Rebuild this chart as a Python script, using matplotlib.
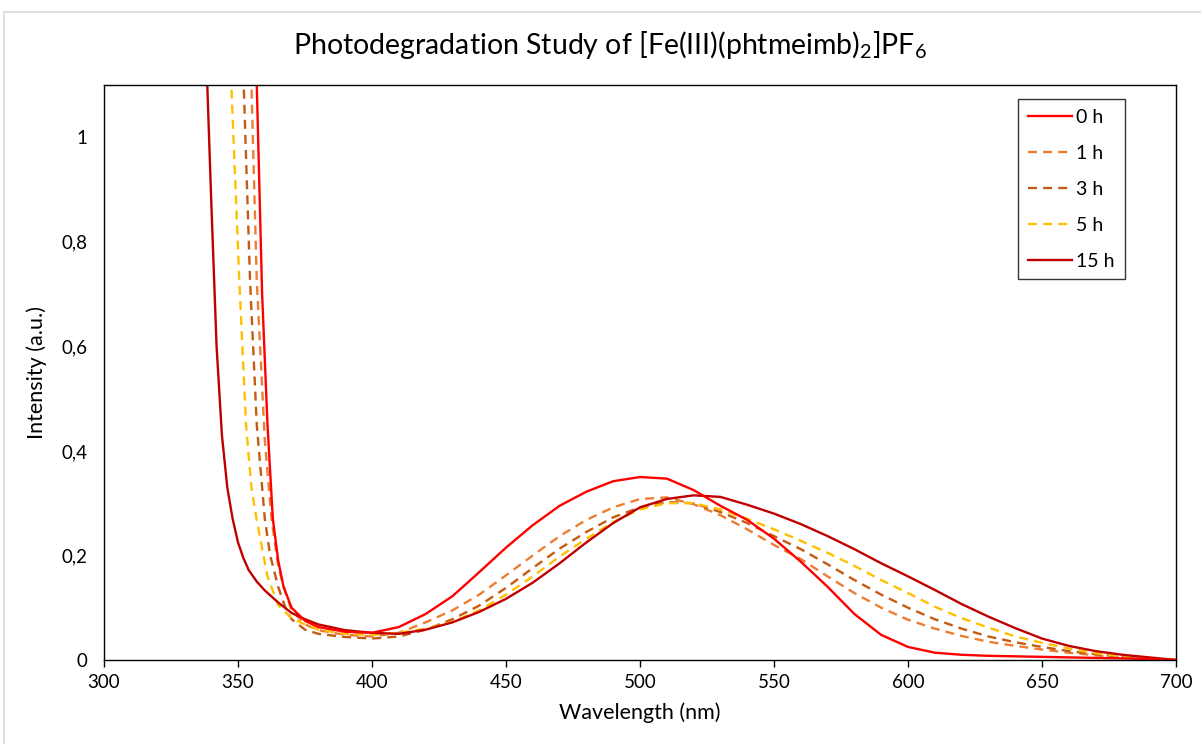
"""
Photodegradation study — UV/Vis spectra of [Fe(III)(phtmeimb)2]PF6 over time.
"""

import matplotlib.pyplot as plt
from matplotlib.lines import Line2D
from matplotlib.ticker import FuncFormatter

plt.rcParams["font.family"] = ["Lato", "DejaVu Sans"]
plt.rcParams["mathtext.fontset"] = "custom"
plt.rcParams["mathtext.rm"] = "Lato"
plt.rcParams["mathtext.it"] = "Lato:italic"

# ---- data ----
# common wavelength grid above the absorption edge
wl_tail = [380, 390, 400, 410, 420, 430, 440, 450, 460, 470, 480, 490, 500,
           510, 520, 530, 540, 550, 560, 570, 580, 590, 600, 610, 620, 630,
           640, 650, 660, 670, 680, 690, 700]

# steep UV edge, per series (wavelength, intensity)
edge_wl_0h = [355, 357, 359, 361, 363, 365, 367, 370, 375]
edge_0h = [1.45, 1.10, 0.70, 0.45, 0.27, 0.19, 0.14, 0.10, 0.075]
edge_wl_1h = [353, 355, 357, 360, 362.5, 365, 367, 370, 375]
edge_1h = [1.45, 1.10, 0.725, 0.42, 0.27, 0.18, 0.14, 0.095, 0.068]
edge_wl_3h = [350, 352, 354.5, 357, 360, 362, 365, 368, 370, 375]
edge_3h = [1.45, 1.12, 0.725, 0.45, 0.27, 0.20, 0.14, 0.095, 0.078, 0.058]
edge_wl_5h = [345, 347.5, 350.5, 353, 355, 357, 361, 365, 370, 375]
edge_5h = [1.50, 1.10, 0.725, 0.45, 0.33, 0.267, 0.16, 0.105, 0.08, 0.068]
edge_wl_15h = [336, 338, 340, 342, 344, 346, 348, 350, 352, 354, 357, 360,
               365, 370, 375]
edge_15h = [1.60, 1.18, 0.88, 0.60, 0.43, 0.33, 0.27, 0.225, 0.195, 0.172,
            0.150, 0.133, 0.11, 0.09, 0.078]

tail_0h = [0.063, 0.054, 0.052, 0.063, 0.088, 0.122, 0.168, 0.215, 0.258,
           0.295, 0.322, 0.342, 0.350, 0.347, 0.325, 0.295, 0.268, 0.232,
           0.188, 0.140, 0.088, 0.048, 0.025, 0.014, 0.010, 0.008, 0.007,
           0.006, 0.005, 0.004, 0.003, 0.002, 0.0]
tail_1h = [0.057, 0.048, 0.045, 0.052, 0.072, 0.095, 0.125, 0.162, 0.200,
           0.237, 0.268, 0.292, 0.308, 0.311, 0.298, 0.277, 0.250, 0.220,
           0.193, 0.160, 0.128, 0.100, 0.077, 0.060, 0.046, 0.035, 0.027,
           0.020, 0.014, 0.009, 0.005, 0.002, 0.0]
tail_3h = [0.050, 0.044, 0.041, 0.045, 0.058, 0.078, 0.104, 0.138, 0.176,
           0.213, 0.245, 0.273, 0.292, 0.302, 0.300, 0.283, 0.262, 0.237,
           0.212, 0.183, 0.153, 0.125, 0.100, 0.078, 0.060, 0.045, 0.034,
           0.025, 0.017, 0.011, 0.006, 0.002, 0.0]
tail_5h = [0.058, 0.050, 0.048, 0.052, 0.060, 0.073, 0.095, 0.125, 0.160,
           0.198, 0.232, 0.264, 0.288, 0.300, 0.300, 0.288, 0.270, 0.250,
           0.228, 0.205, 0.180, 0.153, 0.128, 0.102, 0.080, 0.062, 0.045,
           0.033, 0.022, 0.013, 0.007, 0.003, 0.0]
tail_15h = [0.068, 0.057, 0.052, 0.050, 0.058, 0.072, 0.092, 0.117, 0.148,
            0.185, 0.225, 0.262, 0.292, 0.308, 0.315, 0.312, 0.297, 0.280,
            0.260, 0.237, 0.212, 0.185, 0.160, 0.134, 0.107, 0.083, 0.061,
            0.041, 0.027, 0.017, 0.010, 0.005, 0.0]

labels = ["0 h", "1 h", "3 h", "5 h", "15 h"]
colors = ["#FF0000", "#ED7D31", "#C55A11", "#FFC000", "#C00000"]
styles = ["-", "--", "--", "--", "-"]

series = [
    (edge_wl_0h + wl_tail, edge_0h + tail_0h),
    (edge_wl_1h + wl_tail, edge_1h + tail_1h),
    (edge_wl_3h + wl_tail, edge_3h + tail_3h),
    (edge_wl_5h + wl_tail, edge_5h + tail_5h),
    (edge_wl_15h + wl_tail, edge_15h + tail_15h),
]

# ---- figure ----
fig = plt.figure(figsize=(12.01, 7.44), dpi=100)
ax = fig.add_axes([0.0866, 0.1129, 0.8926, 0.7729])

# dashed ones first, solid on top
order = [1, 2, 3, 4, 0]
handles = {}
for i in order:
    x, y = series[i]
    if styles[i] == "--":
        (ln,) = ax.plot(x, y, color=colors[i], lw=1.7, dashes=(3.8, 2.6),
                        label=labels[i], solid_joinstyle="round")
    else:
        (ln,) = ax.plot(x, y, color=colors[i], lw=1.7, label=labels[i],
                        solid_joinstyle="round")
    handles[i] = ln

ax.set_xlim(300, 700)
ax.set_ylim(0, 1.1)
ax.set_xticks(range(300, 701, 50))
ax.set_yticks([0, 0.2, 0.4, 0.6, 0.8, 1.0])
ax.yaxis.set_major_formatter(
    FuncFormatter(lambda v, p: "0" if v == 0 else ("1" if v == 1 else f"{v:.1f}".replace(".", ",")))
)
ax.tick_params(axis="x", direction="out", length=5, width=1, labelsize=13.5,
               pad=5, colors="black")
ax.tick_params(axis="y", length=0, labelsize=13.5, pad=12)

for s in ax.spines.values():
    s.set_linewidth(1.0)
    s.set_color("black")

ax.set_xlabel("Wavelength (nm)", fontsize=15.5, labelpad=8)
ax.set_ylabel("Intensity (a.u.)", fontsize=15.5, labelpad=10)

fig.text(0.508, 0.94, r"Photodegradation Study of [Fe(III)(phtmeimb)$_2$]PF$_6$",
         ha="center", va="center", fontsize=20.5)

leg = ax.legend([handles[i] for i in range(5)], labels,
                loc="upper left", bbox_to_anchor=(0.8526, 0.975),
                fontsize=14, frameon=True, fancybox=False, handlelength=2.3,
                handletextpad=0.2, labelspacing=0.97, borderpad=0.5,
                borderaxespad=0)
leg.get_frame().set_edgecolor("black")
leg.get_frame().set_linewidth(1.0)

# outer chart border (Excel-style)
fig.add_artist(Line2D([4 / 1201, 1.0], [1 - 12 / 744, 1 - 12 / 744],
                      color="#d9d9d9", lw=1.2, transform=fig.transFigure))
fig.add_artist(Line2D([4 / 1201, 4 / 1201], [0.0, 1 - 12 / 744],
                      color="#d9d9d9", lw=1.2, transform=fig.transFigure))

fig.savefig("out.png", dpi=100)
